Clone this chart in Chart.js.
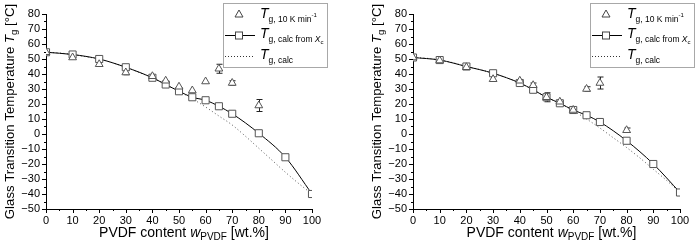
<!DOCTYPE html>
<html>
<head>
<meta charset="utf-8">
<script src="https://cdn.jsdelivr.net/npm/chart.js@4/dist/chart.umd.min.js"></script>
<style>
  html, body { margin: 0; padding: 0; background: #fff; }
  #wrap { position: relative; width: 697px; height: 251px; overflow: hidden; }
  .box { position: absolute; top: 0; height: 251px; }
</style>
</head>
<body>
<div id="wrap">
  <div class="box" style="left:0;width:350px"><canvas id="chartA"></canvas></div>
  <div class="box" style="left:367px;width:330px"><canvas id="chartB"></canvas></div>
</div>
<script>
// ---- data ----
const wMeas = [0, 10, 20, 30, 40, 45, 50, 55, 60, 65, 70, 80];
const wXc = [0, 10, 20, 30, 40, 45, 50, 55, 60, 65, 70, 80, 90, 100];
const wCalc = [0, 5, 10, 15, 20, 25, 30, 35, 40, 45, 50, 55, 60, 65, 70, 75, 80, 85, 90, 95, 100];

// left panel
const tgMeasA = [54.5, 51, 46.5, 41, 38.5, 35.5, 31.5, 29, 35, 43.5, 34, 19];
const tgErrA = [0.5, 1, 1.5, 1.5, 1, 1, 1, 1, 1, 3, 1.5, 4];
const tgXcA = [54.5, 53, 50, 44.5, 37.5, 33, 28.5, 24.5, 22.5, 18.5, 13.5, 0.5, -15.5, -40];
const tgCalcA = [54.5, 54, 53, 51.5, 50, 47.5, 44.5, 41, 37.5, 33, 28.5, 23.5, 18, 12, 6, -1.5, -9.5, -17.5, -25.5, -33, -40];

// right panel
const tgMeasB = [51, 49, 44.5, 36.5, 35.5, 32.5, 24.5, 21.5, 16, 30, 34, 2.5];
const tgErrB = [0.5, 1, 1.5, 1, 1, 1.5, 3, 1, 1, 1.5, 4, 1.5];
const tgXcB = [51, 49.3, 45, 40.5, 34, 29.5, 24.5, 20.5, 16, 12.5, 8, -4.5, -20, -39];
const tgCalcB = [51, 50.5, 49.3, 47.5, 45, 43, 40.5, 37.5, 34, 29.5, 24.5, 20.5, 15.5, 10, 4, -2.5, -9, -16, -23.5, -31, -39];

const FONT = '"Liberation Sans", Arial, sans-serif';
const minus = v => (v < 0 ? '\u2212' + Math.abs(v) : String(v));
const pts = (xs, ys) => xs.map((x, i) => ({ x: x, y: ys[i] }));

// draw a run of text pieces: [text, size, italic, dy]
function richText(ctx, parts, x, y, align) {
  let total = 0;
  parts.forEach(p => {
    ctx.font = (p[2] ? 'italic ' : '') + p[1] + 'px ' + FONT;
    total += ctx.measureText(p[0]).width;
  });
  let cx = align === 'center' ? x - total / 2 : x;
  ctx.textAlign = 'left';
  ctx.textBaseline = 'alphabetic';
  parts.forEach(p => {
    ctx.font = (p[2] ? 'italic ' : '') + p[1] + 'px ' + FONT;
    ctx.fillText(p[0], cx, y + (p[3] || 0));
    cx += ctx.measureText(p[0]).width;
  });
}

const decorPlugin = {
  id: 'decor',
  beforeDatasetsDraw(chart) {
    // error bars
    const ctx = chart.ctx, xs = chart.scales.x, ys = chart.scales.y;
    const ds = chart.data.datasets[0];
    ctx.save();
    ctx.strokeStyle = '#222';
    ctx.lineWidth = 1;
    ds.data.forEach((p, i) => {
      const e = ds.err[i];
      if (!e) return;
      const px = Math.round(xs.getPixelForValue(p.x)) + 0.5;
      const y1 = ys.getPixelForValue(p.y + e), y2 = ys.getPixelForValue(p.y - e);
      ctx.beginPath();
      ctx.moveTo(px, y1); ctx.lineTo(px, y2);
      if (e >= 1.5) {
        ctx.moveTo(px - 3, y1); ctx.lineTo(px + 3, y1);
        ctx.moveTo(px - 3, y2); ctx.lineTo(px + 3, y2);
      }
      ctx.stroke();
    });
    ctx.restore();
  },
  afterDraw(chart) {
    const ctx = chart.ctx, xs = chart.scales.x, ys = chart.scales.y;
    const a = chart.chartArea;
    ctx.save();
    ctx.strokeStyle = '#000';
    ctx.lineWidth = 1;
    // tick marks, major and minor, pointing outwards
    ctx.beginPath();
    for (let v = -50; v <= 80; v += 5) {
      const py = Math.round(ys.getPixelForValue(v)) + 0.5;
      const len = v % 10 === 0 ? 4 : 2;
      ctx.moveTo(a.left - len, py); ctx.lineTo(a.left, py);
    }
    for (let v = 0; v <= 100; v += 5) {
      const px = Math.round(xs.getPixelForValue(v)) + 0.5;
      const len = v % 10 === 0 ? 4 : 2;
      ctx.moveTo(px, a.bottom); ctx.lineTo(px, a.bottom + len);
    }
    ctx.stroke();

    ctx.fillStyle = '#000';
    // x title
    richText(ctx, [['PVDF content ', 14], ['w', 14, true], ['PVDF', 10, false, 3], [' [wt.%]', 14]],
      (a.left + a.right) / 2 + 5, 237, 'center');
    // y title
    ctx.save();
    ctx.translate(14, (a.top + a.bottom) / 2);
    ctx.rotate(-Math.PI / 2);
    richText(ctx, [['Glass Transition Temperature ', 13.2], ['T', 13.2, true], ['g', 9.5, false, 3], [' [\u00b0C]', 13.2]],
      0, 0, 'center');
    ctx.restore();

    // legend
    const lx = 223, ly = 3;
    ctx.strokeStyle = '#a8a8a8';
    ctx.strokeRect(lx + 0.5, ly + 0.5, 104, 64);
    const symX = lx + 16, txtX = lx + 37;
    // row 1: triangle
    ctx.strokeStyle = '#444';
    ctx.fillStyle = '#fff';
    ctx.beginPath();
    ctx.moveTo(symX, 10); ctx.lineTo(symX + 4, 17); ctx.lineTo(symX - 4, 17); ctx.closePath();
    ctx.fill(); ctx.stroke();
    // row 2: line + square
    ctx.strokeStyle = '#000';
    ctx.beginPath(); ctx.moveTo(lx + 2, 35.5); ctx.lineTo(lx + 32, 35.5); ctx.stroke();
    ctx.fillStyle = '#fff';
    ctx.fillRect(symX - 3.5, 32, 7, 7);
    ctx.strokeStyle = '#444';
    ctx.strokeRect(symX - 3.5, 32, 7, 7);
    // row 3: dotted
    ctx.strokeStyle = '#333';
    ctx.setLineDash([1, 2]);
    ctx.beginPath(); ctx.moveTo(lx + 2, 56.5); ctx.lineTo(lx + 32, 56.5); ctx.stroke();
    ctx.setLineDash([]);

    ctx.fillStyle = '#000';
    richText(ctx, [['T', 14, true], ['g, 10 K min', 8.5, false, 4], ['-1', 6, false, -1]], txtX, 18);
    richText(ctx, [['T', 14, true], ['g, calc from ', 8.5, false, 4], ['X', 8.5, true, 4], ['c', 6, false, 6]], txtX, 38);
    richText(ctx, [['T', 14, true], ['g, calc', 8.5, false, 4]], txtX, 59);
    ctx.restore();
  }
};

function makeChart(id, meas, err, xc, calc, rightPad) {
  return new Chart(document.getElementById(id), {
    type: 'scatter',
    data: {
      datasets: [
        {
          label: 'Tg, 10 K/min',
          data: pts(wMeas, meas),
          err: err,
          pointStyle: 'triangle',
          pointRadius: 4.5,
          pointBackgroundColor: '#fff',
          pointBorderColor: '#555',
          pointBorderWidth: 1,
          showLine: false,
          order: 0
        },
        {
          label: 'Tg, calc from Xc',
          data: pts(wXc, xc),
          showLine: true,
          borderColor: '#000',
          borderWidth: 1,
          cubicInterpolationMode: 'monotone',
          pointStyle: 'rect',
          pointRadius: 5,
          pointBackgroundColor: '#fff',
          pointBorderColor: '#555',
          pointBorderWidth: 1,
          order: 1
        },
        {
          label: 'Tg, calc',
          data: pts(wCalc, calc),
          showLine: true,
          borderColor: '#555',
          borderWidth: 1,
          borderDash: [1, 2.5],
          cubicInterpolationMode: 'monotone',
          pointRadius: 0,
          order: 2
        }
      ]
    },
    options: {
      responsive: false,
      animation: false,
      events: [],
      layout: { padding: { top: 14, right: rightPad, left: 0, bottom: 0 } },
      plugins: { legend: { display: false }, tooltip: { enabled: false } },
      scales: {
        x: {
          type: 'linear', min: 0, max: 100,
          afterFit: s => { s.height = 42; },
          grid: { display: false, drawTicks: false },
          border: { display: true, color: '#000', width: 1 },
          ticks: { stepSize: 10, padding: 5, autoSkip: false, color: '#000', font: { family: FONT, size: 11 }, maxRotation: 0, callback: v => minus(v) }
        },
        y: {
          type: 'linear', min: -50, max: 80,
          afterFit: s => { s.width = 46; },
          grid: { display: false, drawTicks: false },
          border: { display: true, color: '#000', width: 1 },
          ticks: { stepSize: 10, padding: 6, autoSkip: false, color: '#000', font: { family: FONT, size: 11 }, callback: v => minus(v) }
        }
      }
    },
    plugins: [decorPlugin]
  });
}

const cA = document.getElementById('chartA');
cA.width = 350; cA.height = 251;
const cB = document.getElementById('chartB');
cB.width = 330; cB.height = 251;

makeChart('chartA', tgMeasA, tgErrA, tgXcA, tgCalcA, 38);
makeChart('chartB', tgMeasB, tgErrB, tgXcB, tgCalcB, 17);
</script>
</body>
</html>
